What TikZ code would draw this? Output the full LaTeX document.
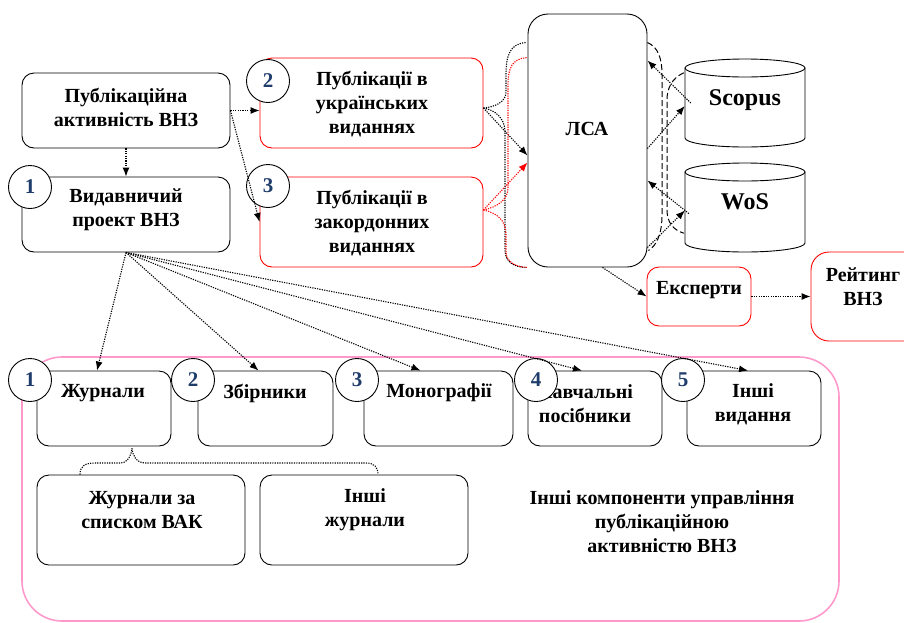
\documentclass[tikz,border=0pt]{standalone}
\usepackage{fontspec}
\setmainfont{Liberation Serif}
\usetikzlibrary{arrows.meta,fit,calc}
\definecolor{numblue}{HTML}{1F3D6B}
\definecolor{pinkc}{HTML}{FF99CC}
\begin{document}
\begin{tikzpicture}[x=1pt,y=-1pt,
  box/.style={draw, rounded corners=12pt, line width=0.9pt, inner sep=0pt},
  rbox/.style={box, draw=red},
  num/.style={circle, draw, fill=white, line width=0.9pt, minimum size=43pt, inner sep=0pt, text=numblue, font=\fontsize{21}{21}\selectfont\bfseries},
  txt/.style={align=center, inner sep=0pt, font=\fontsize{20}{24}\selectfont\bfseries},
  big/.style={align=center, inner sep=0pt, font=\fontsize{24}{26}\selectfont\bfseries},
  dots/.style={line width=1.1pt, dash pattern=on 1.2pt off 1.2pt},
  arr/.style={dots, -{Latex[length=9pt,width=7pt]}},
  dsh/.style={line width=1pt, dash pattern=on 6pt off 3pt},
  cyl/.style={line width=0.9pt}
]
\useasboundingbox (0,0) rectangle (904,622);

% big pink frame
\node[draw=pinkc, line width=1.6pt, rounded corners=40pt, inner sep=0pt, fit={(22,357) (839,621)}] (frame) {};

% top boxes
\node[box, fit={(22,73) (230,148)}] (pa) {};
\node[box, fit={(22,177) (230,252)}] (vyd) {};
\node[rbox, fit={(260,58) (483,148)}] (ukr) {};
\node[rbox, fit={(260,177) (483,267)}] (zak) {};
\node[box, rounded corners=20pt, fit={(528,14) (647,267)}] (lsa) {};
\node[rbox, fit={(647,267) (751,326)}] (eks) {};
\node[rbox, rounded corners=18pt, fit={(811,252) (925,341)}] (rat) {};

% cylinders
\node[inner sep=0pt, fit={(685,59) (805,147)}] (sc) {};
\draw[cyl] (685,68) -- (685,138) arc[start angle=180, end angle=360, x radius=60pt, y radius=9pt] -- (805,68);
\draw[cyl] (745,68) ellipse [x radius=60pt, y radius=9pt];
\node[inner sep=0pt, fit={(685,163) (805,252)}] (wos) {};
\draw[cyl] (685,172) -- (685,243) arc[start angle=180, end angle=360, x radius=60pt, y radius=9pt] -- (805,172);
\draw[cyl] (745,172) ellipse [x radius=60pt, y radius=9pt];

% lower boxes
\node[box, fit={(37,371) (171,446)}] (zhu) {};
\node[box, fit={(198,371) (333,446)}] (zbi) {};
\node[box, fit={(364,371) (513,446)}] (mon) {};
\node[box, fit={(528,371) (662,446)}] (nav) {};
\node[box, fit={(687,371) (821,446)}] (inv) {};
\node[box, fit={(37,475) (245,565)}] (vak) {};
\node[box, fit={(260,475) (468,565)}] (inz) {};

% texts
\node[txt] (tpa) at (126,107) {Публікаційна\\активність ВНЗ};
\node[txt] (tvyd) at (126,210) {Видавничий\\проект ВНЗ};
\node[txt] (tukr) at (372,104) {Публікації в\\українських\\виданнях};
\node[txt] (tzak) at (372,223) {Публікації в\\закордонних\\виданнях};
\node[txt] (tlsa) at (587,129) {ЛСА};
\node[big] (tsc) at (745,100) {Scopus};
\node[big] (two) at (745,202) {WoS};
\node[txt] (teks) at (699,290) {Експерти};
\node[txt] (trat) at (863,287) {Рейтинг\\ВНЗ};
\node[txt] (tzhu) at (103,393) {Журнали};
\node[txt] (tzbi) at (265,393) {Збірники};
\node[txt] (tmon) at (439,393) {Монографії};
\node[txt] (tnav) at (585,404) {Навчальні\\посібники};
\node[txt] (tinv) at (753,404) {Інші\\видання};
\node[txt] (tvak) at (142,510) {Журнали за\\списком ВАК};
\node[txt] (tinz) at (365,510) {Інші\\журнали};
\node[txt] (toth) at (662,522) {Інші компоненти управління\\публікаційною\\активністю ВНЗ};

% number circles
\node[num] (n1a) at (30,187) {1};
\node[num] (n2a) at (268,81) {2};
\node[num] (n3a) at (268,186) {3};
\node[num] (n1) at (30,380) {1};
\node[num] (n2) at (193,380) {2};
\node[num] (n3) at (357,380) {3};
\node[num] (n4) at (536,380) {4};
\node[num] (n5) at (683,380) {5};

% connectors top
\draw[arr] (pa.south) -- (vyd.north);
\draw[arr] (pa.east) -- (pa.east -| ukr.west);
\draw[arr] (pa.east) -- (zak.west);
\draw[arr] ([yshift=-5pt]ukr.east) -- ([yshift=-15pt]lsa.west);
\draw[arr, red] ([yshift=12pt]zak.east) -- ([yshift=-22pt]lsa.west);

% brace-like dotted connectors
\coordinate (bt) at ($(ukr.east)+(0,5)$);
\coordinate (rt) at ($(zak.east)+(0,-12)$);
\draw[dots] ($(lsa.north west)+(-2,29)$) .. controls (510,44) and (506,55) .. (506,75) -- (506,92) .. controls (506,102) and (495,107) .. (bt);
\draw[dots] (bt) .. controls (495,110) and (505,118) .. (505,132) -- (505,250) .. controls (505,262) and (514,267) .. ($(lsa.south west)+(-2,0)$);
\draw[dots, red] ($(lsa.north west)+(-1,44)$) .. controls (512,59) and (508,68) .. (508,85) -- (508,188) .. controls (508,200) and (497,207) .. (rt);
\draw[dots, red] (rt) .. controls (497,213) and (506,220) .. (506,235) -- (506,252) .. controls (506,262) and (516,267) .. ($(lsa.south west)+(0,0)$);

% LSA <-> databases
\draw[arr] ([yshift=-8pt]lsa.east) -- ([yshift=-3pt]sc.west);
\draw[arr] ([xshift=6pt]sc.west) -- ([yshift=80pt]lsa.east);
\draw[arr] ([yshift=-107pt]lsa.east) -- ([yshift=-3pt]wos.west);
\draw[arr] ([xshift=4pt,yshift=-6pt]wos.west) -- ([yshift=-40pt]lsa.east);
\draw[dsh] ($(lsa.north east)+(0,29)$) .. controls (658,47) and (662,58) .. (662,75) -- (662,215) .. controls (662,235) and (656,246) .. ($(lsa.south east)+(1,-17)$);
\draw[dsh] ($(sc.north west)+(-1,14)$) .. controls (672,78) and (667,88) .. (667,100) -- (667,210) .. controls (667,222) and (673,230) .. ($(wos.south west)+(-1,-19)$);

\draw[arr] ([xshift=15pt]lsa.south) -- (eks.west);
\draw[arr] (eks.east) -- (eks.east -| rat.west);

% fan from publishing project
\draw[arr] (vyd.south) -- ([xshift=-7pt]zhu.north);
\draw[arr] (vyd.south) -- ([xshift=-7pt]zbi.north);
\draw[arr] (vyd.south) -- ([xshift=-18pt]mon.north);
\draw[arr] (vyd.south) -- ([xshift=-13pt]nav.north);
\draw[arr] (vyd.south) -- ([xshift=-6pt]inv.north);

% journals brace
\coordinate (jt) at ($(zhu.south)+(28,2)$);
\draw[dots] ([xshift=-61pt]vak.north) .. controls (80,466) and (85,463) .. (95,463) -- (120,463) .. controls (128,463) and (131,456) .. (jt);
\draw[dots] (jt) .. controls (133,456) and (136,463) .. (146,463) -- (366,463) .. controls (374,463) and (378,467) .. ([xshift=14pt]inz.north);
\end{tikzpicture}
\end{document}
